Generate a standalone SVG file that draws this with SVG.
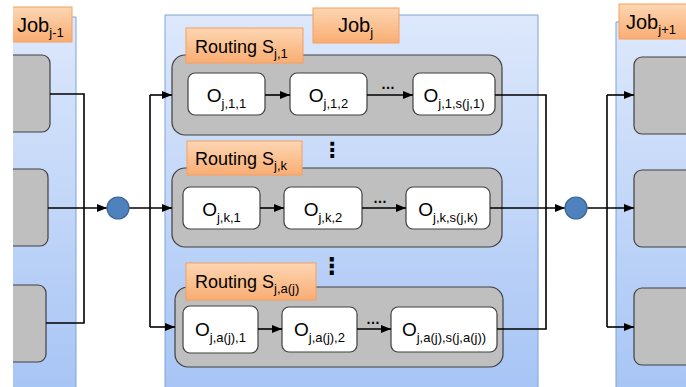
<svg xmlns="http://www.w3.org/2000/svg" width="686" height="387" viewBox="0 0 686 387">
<defs>
<linearGradient id="gBlue" x1="0" y1="0" x2="0" y2="1">
<stop offset="0" stop-color="#dde8fb"/><stop offset="1" stop-color="#a6c4f5"/>
</linearGradient>
<linearGradient id="gOr" x1="0" y1="0" x2="0" y2="1">
<stop offset="0" stop-color="#fdd6b3"/><stop offset="1" stop-color="#f9ad72"/>
</linearGradient>
<marker id="arr" markerUnits="userSpaceOnUse" markerWidth="11" markerHeight="9" refX="10" refY="4" orient="auto">
<path d="M0,0 L10,4 L0,8 z" fill="#000"/>
</marker>
<clipPath id="clipL"><rect x="13" y="0" width="200" height="387"/></clipPath>
</defs>
<style>
.panel{fill:url(#gBlue);}
.pedge{fill:none;stroke:#7ea4d6;stroke-width:1;}
.lab{fill:url(#gOr);stroke:#f4a060;stroke-width:1;}
.gbox{fill:#bfbfbf;stroke:#404040;stroke-width:1.2;}
.op{fill:#fff;stroke:#404040;stroke-width:1.2;}
.t{font-family:"Liberation Sans",Arial,sans-serif;fill:#000;}
.big{font-size:19px;}
.sub{font-size:13px;}
.lt{font-size:18px;}
.conn{fill:none;stroke:#000;stroke-width:1.6;}
.dot{fill:#4f81bd;stroke:#3a6496;stroke-width:1.2;}
</style>

<g id="job-prev" clip-path="url(#clipL)">
<rect class="panel" x="13" y="17" width="63" height="380"/>
<path class="pedge" d="M13,17 H76 V387"/>
<rect class="gbox" x="0" y="55" width="50" height="77" rx="8"/>
<rect class="gbox" x="0" y="169" width="48" height="77" rx="8"/>
<rect class="gbox" x="0" y="285" width="46" height="77" rx="8"/>
<rect class="lab" x="5" y="7" width="67" height="35"/>
<text class="t" x="17" y="32"><tspan font-size="20">Job</tspan><tspan class="sub" dy="5">j-1</tspan></text>
</g>

<g id="job-next">
<rect class="panel" x="616" y="22" width="80" height="375"/>
<path class="pedge" d="M616,387 V22 H690"/>
<rect class="gbox" x="634" y="57" width="70" height="77" rx="8"/>
<rect class="gbox" x="634" y="170" width="70" height="77" rx="8"/>
<rect class="gbox" x="634" y="288" width="70" height="77" rx="8"/>
<rect class="lab" x="619" y="4" width="75" height="35"/>
<text class="t" x="626" y="29"><tspan font-size="20">Job</tspan><tspan class="sub" dy="5">j+1</tspan></text>
</g>

<g id="job-j">
<rect class="panel" x="165" y="15" width="373" height="380"/>
<path class="pedge" d="M165,387 V15 H538 V387"/>
<rect class="lab" x="313" y="8" width="86" height="35"/>
<text class="t" x="338" y="32"><tspan font-size="20">Job</tspan><tspan class="sub" dy="5">j</tspan></text>
</g>

<g id="routing-1">
<rect class="gbox" x="172" y="55" width="330" height="80" rx="13"/>
<rect class="lab" x="186" y="28" width="117" height="35"/>
<text class="t" x="195" y="53"><tspan class="lt">Routing S</tspan><tspan class="sub" dy="5">j,1</tspan></text>
</g>
<g id="op-1-1"><rect class="op" x="188" y="73" width="77" height="42" rx="7"/>
<text class="t" x="226.5" y="102" text-anchor="middle"><tspan class="big">O</tspan><tspan class="sub" dy="6">j,1,1</tspan></text></g>
<g id="op-1-2"><rect class="op" x="290" y="73" width="77" height="42" rx="7"/>
<text class="t" x="328.5" y="102" text-anchor="middle"><tspan class="big">O</tspan><tspan class="sub" dy="6">j,1,2</tspan></text></g>
<g id="op-1-s"><rect class="op" x="413" y="73" width="82" height="42" rx="7"/>
<text class="t" x="454" y="102" text-anchor="middle"><tspan class="big">O</tspan><tspan class="sub" dy="6">j,1,s(j,1)</tspan></text></g>

<g id="routing-k">
<rect class="gbox" x="172" y="168" width="330" height="79" rx="13"/>
<rect class="lab" x="187" y="141" width="115" height="34"/>
<text class="t" x="195" y="165"><tspan class="lt">Routing S</tspan><tspan class="sub" dy="5">j,k</tspan></text>
</g>
<g id="op-k-1"><rect class="op" x="183" y="187" width="77" height="42" rx="7"/>
<text class="t" x="221.5" y="216" text-anchor="middle"><tspan class="big">O</tspan><tspan class="sub" dy="6">j,k,1</tspan></text></g>
<g id="op-k-2"><rect class="op" x="284" y="187" width="78" height="42" rx="7"/>
<text class="t" x="323" y="216" text-anchor="middle"><tspan class="big">O</tspan><tspan class="sub" dy="6">j,k,2</tspan></text></g>
<g id="op-k-s"><rect class="op" x="406" y="187" width="84" height="42" rx="7"/>
<text class="t" x="448" y="216" text-anchor="middle"><tspan class="big">O</tspan><tspan class="sub" dy="6">j,k,s(j,k)</tspan></text></g>

<g id="routing-a">
<rect class="gbox" x="175" y="287" width="328" height="80" rx="13"/>
<rect class="lab" x="186" y="263" width="130" height="37"/>
<text class="t" x="195" y="288"><tspan class="lt">Routing S</tspan><tspan class="sub" dy="5">j,a(j)</tspan></text>
</g>
<g id="op-a-1"><rect class="op" x="183" y="306" width="75" height="47" rx="7"/>
<text class="t" x="220.5" y="336" text-anchor="middle"><tspan class="big">O</tspan><tspan class="sub" dy="6">j,a(j),1</tspan></text></g>
<g id="op-a-2"><rect class="op" x="282" y="307" width="75" height="45" rx="7"/>
<text class="t" x="319.5" y="336" text-anchor="middle"><tspan class="big">O</tspan><tspan class="sub" dy="6">j,a(j),2</tspan></text></g>
<g id="op-a-s"><rect class="op" x="391" y="307" width="106" height="45" rx="7"/>
<text class="t" x="444" y="336" text-anchor="middle"><tspan class="big">O</tspan><tspan class="sub" dy="6">j,a(j),s(j,a(j))</tspan></text></g>

<g id="ellipses" class="t">
<text x="388" y="89" font-size="14" text-anchor="middle" font-weight="bold">…</text>
<text x="380" y="203" font-size="14" text-anchor="middle" font-weight="bold">…</text>
<text x="373" y="324" font-size="14" text-anchor="middle" font-weight="bold">…</text>
<text x="332" y="157" font-size="21" text-anchor="middle" font-family="DejaVu Sans" font-weight="bold">⋮</text>
<text x="332" y="274" font-size="23" text-anchor="middle" font-family="DejaVu Sans" font-weight="bold">⋮</text>
</g>

<g id="connectors">
<path class="conn" d="M50,94 H84 V323 H46"/>
<path class="conn" d="M48,208 H107" marker-end="url(#arr)"/>
<path class="conn" d="M129,208 H172" marker-end="url(#arr)"/>
<path class="conn" d="M150,95 V327"/>
<path class="conn" d="M150,95 H172" marker-end="url(#arr)"/>
<path class="conn" d="M150,327 H175" marker-end="url(#arr)"/>
<path class="conn" d="M265,95 H290" marker-end="url(#arr)"/>
<path class="conn" d="M367,95 H413" marker-end="url(#arr)"/>
<path class="conn" d="M260,208 H284" marker-end="url(#arr)"/>
<path class="conn" d="M362,208 H406" marker-end="url(#arr)"/>
<path class="conn" d="M258,329 H282" marker-end="url(#arr)"/>
<path class="conn" d="M357,329 H391" marker-end="url(#arr)"/>
<path class="conn" d="M495,95 H546 V329 H497"/>
<path class="conn" d="M490,208 H565" marker-end="url(#arr)"/>
<path class="conn" d="M587,208 H634" marker-end="url(#arr)"/>
<path class="conn" d="M607,95 V327"/>
<path class="conn" d="M607,95 H634" marker-end="url(#arr)"/>
<path class="conn" d="M607,327 H634" marker-end="url(#arr)"/>
</g>
<g id="junction-left"><circle class="dot" cx="118" cy="208" r="11"/></g>
<g id="junction-right"><circle class="dot" cx="576" cy="208" r="11"/></g>
</svg>
